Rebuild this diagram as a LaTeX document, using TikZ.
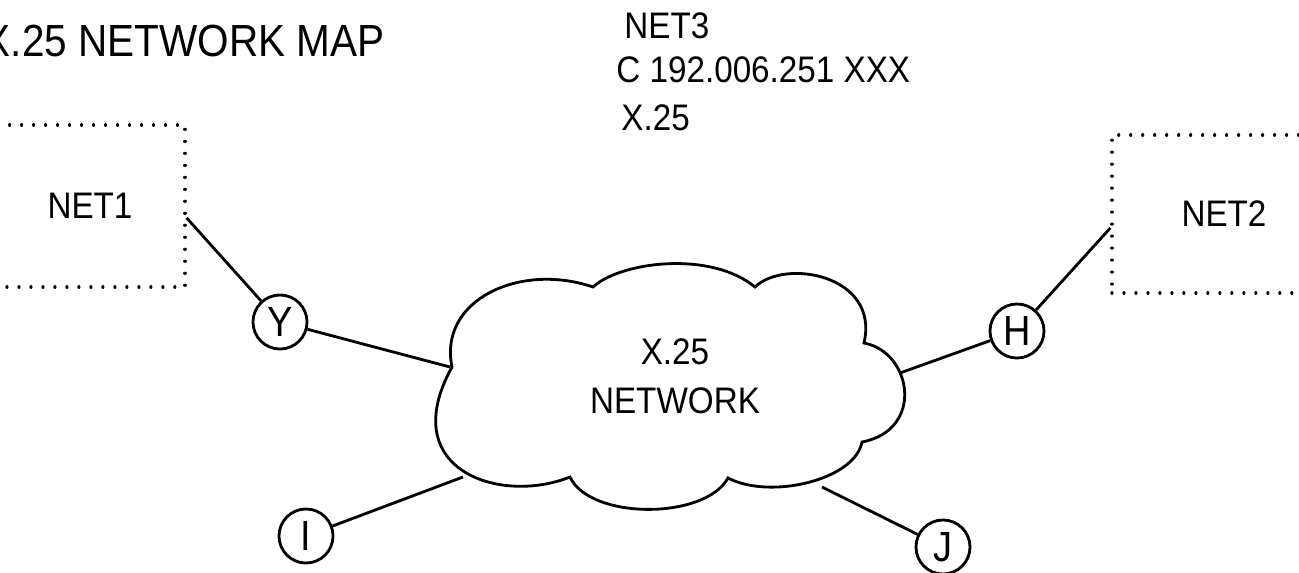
\documentclass[tikz,border=0pt]{standalone}
\usepackage{fontspec}
\setmainfont{Liberation Sans}[FakeStretch=0.9]
\usetikzlibrary{positioning}

\begin{document}
\begin{tikzpicture}[x=0.01cm, y=-0.01cm, line width=0.8pt, font=\fontsize{10.5}{12.5}\selectfont,
    netbox/.style={draw, line width=0.9pt, dash pattern=on 0.01pt off 3.4pt, line cap=round},
    station/.style={draw, circle, inner sep=0pt, minimum size=0.54cm, font=\fontsize{12}{14}\selectfont}]
    \useasboundingbox (0,0) rectangle (1299,572);

    % headings
    \node[font=\fontsize{12.8}{15}\selectfont, anchor=east, inner sep=0pt] (title) at (386,41) {X.25 NETWORK MAP};
    \node[anchor=west, inner sep=0pt] (net3) at (623,26) {NET3};
    \node[anchor=west, inner sep=0pt] (net3addr) at (615,70) {C 192.006.251 XXX};
    \node[anchor=west, inner sep=0pt] (net3type) at (620,118) {X.25};

    % attached networks
    \node[netbox, minimum width=1.9cm, minimum height=1.62cm] (net1) at (90,206) {NET1};
    \node[netbox, minimum width=2.24cm, minimum height=1.58cm] (net2) at (1224,214) {NET2};

    % the cloud
    \draw (452,367) .. controls (438,300) and (520,262) .. (593,287)
        .. controls (620,262) and (710,250) .. (755,287)
        .. controls (785,258) and (880,275) .. (864,343)
        .. controls (912,352) and (925,430) .. (862,442)
        .. controls (855,480) and (770,500) .. (728,478)
        .. controls (705,520) and (590,520) .. (570,477)
        .. controls (500,505) and (395,470) .. (452,367) -- cycle;
    \node[align=center] (x25) at (675,376) {X.25\\[1.5pt]NETWORK};
    \coordinate (cy) at (450,367);
    \coordinate (ci) at (463,477);
    \coordinate (ch) at (900,373);
    \coordinate (cj) at (822,487);

    % stations
    \node[station] (y) at (280,322) {Y};
    \node[station] (i) at (306,536) {I};
    \node[station] (h) at (1017,331) {H};
    \node[station] (j) at (943,547) {J};

    \draw (net1.-7) -- (y);
    \draw (y) -- (cy);
    \draw (i) -- (ci);
    \draw (net2.187.6) -- (h);
    \draw (h) -- (ch);
    \draw (j) -- (cj);
\end{tikzpicture}
\end{document}
